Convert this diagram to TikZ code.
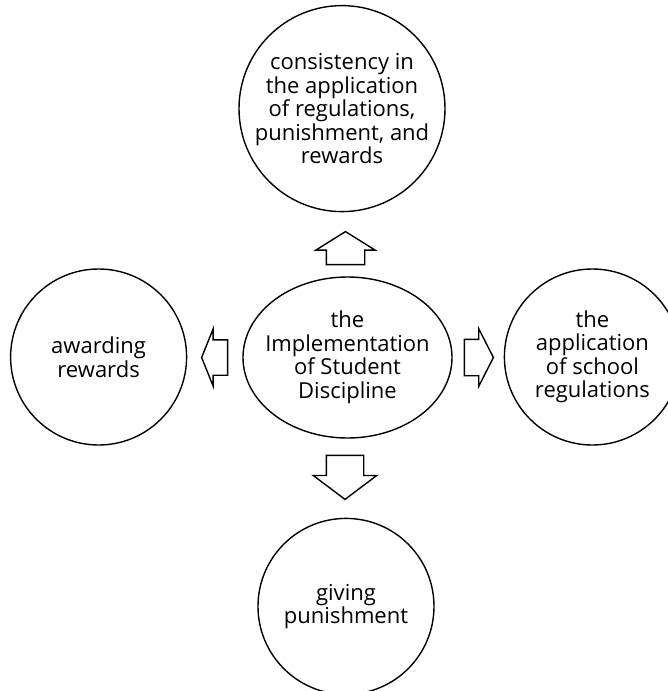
\documentclass[tikz,border=0pt]{standalone}
\usepackage{fontspec}
\setmainfont{Open Sans}
\usetikzlibrary{positioning,calc,shapes.geometric,shapes.arrows}

\begin{document}
\begin{tikzpicture}[
  x=1pt, y=1pt,
  txt/.style={align=center, font=\fontsize{22}{23.5}\selectfont, inner sep=-30pt},
  circ/.style={txt, draw, circle, line width=1.4pt, minimum size=176pt},
  oval/.style={txt, draw, ellipse, line width=1.4pt, minimum width=209pt, minimum height=161pt},
  blk/.style={draw, single arrow, line width=1.4pt, inner sep=0pt, anchor=tail}]
\clip (0,0) rectangle (668,-691);
\node[oval] (impl) at (347.5,-357.5) {the\\Implementation\\of Student\\Discipline};
\node[circ, minimum size=206pt, above=64pt of impl.north, anchor=south, xshift=-5.5pt] (cons) {consistency in\\the application\\of regulations,\\punishment, and\\rewards};
\node[circ, left=55pt of impl, yshift=0.5pt] (award) {awarding\\rewards};
\node[circ, right=51pt of impl, yshift=0.5pt] (appl) {the\\application\\of school\\regulations};
\node[circ, below=79pt of impl.south, anchor=north, xshift=-1.5pt] (pun) {giving\\punishment};
% hollow block arrows
\node[blk, shape border rotate=90, minimum height=33pt, inner xsep=18.5pt, single arrow head extend=10.5pt, single arrow tip angle=116] (toCons) at ($(impl.north)+(-2,11)$) {};
\node[blk, shape border rotate=180, minimum height=26pt, inner ysep=17pt, single arrow head extend=11pt, single arrow tip angle=136] (toAward) at ($(impl.west)+(-14,0)$) {};
\node[blk, shape border rotate=0, minimum height=29pt, inner ysep=17.5pt, single arrow head extend=10.5pt, single arrow tip angle=126] (toAppl) at ($(impl.east)+(11,0)$) {};
\node[blk, shape border rotate=270, minimum height=44pt, inner xsep=18pt, single arrow head extend=13pt, single arrow tip angle=106] (toPun) at ($(impl.south)+(-2.5,-16)$) {};
\end{tikzpicture}
\end{document}
